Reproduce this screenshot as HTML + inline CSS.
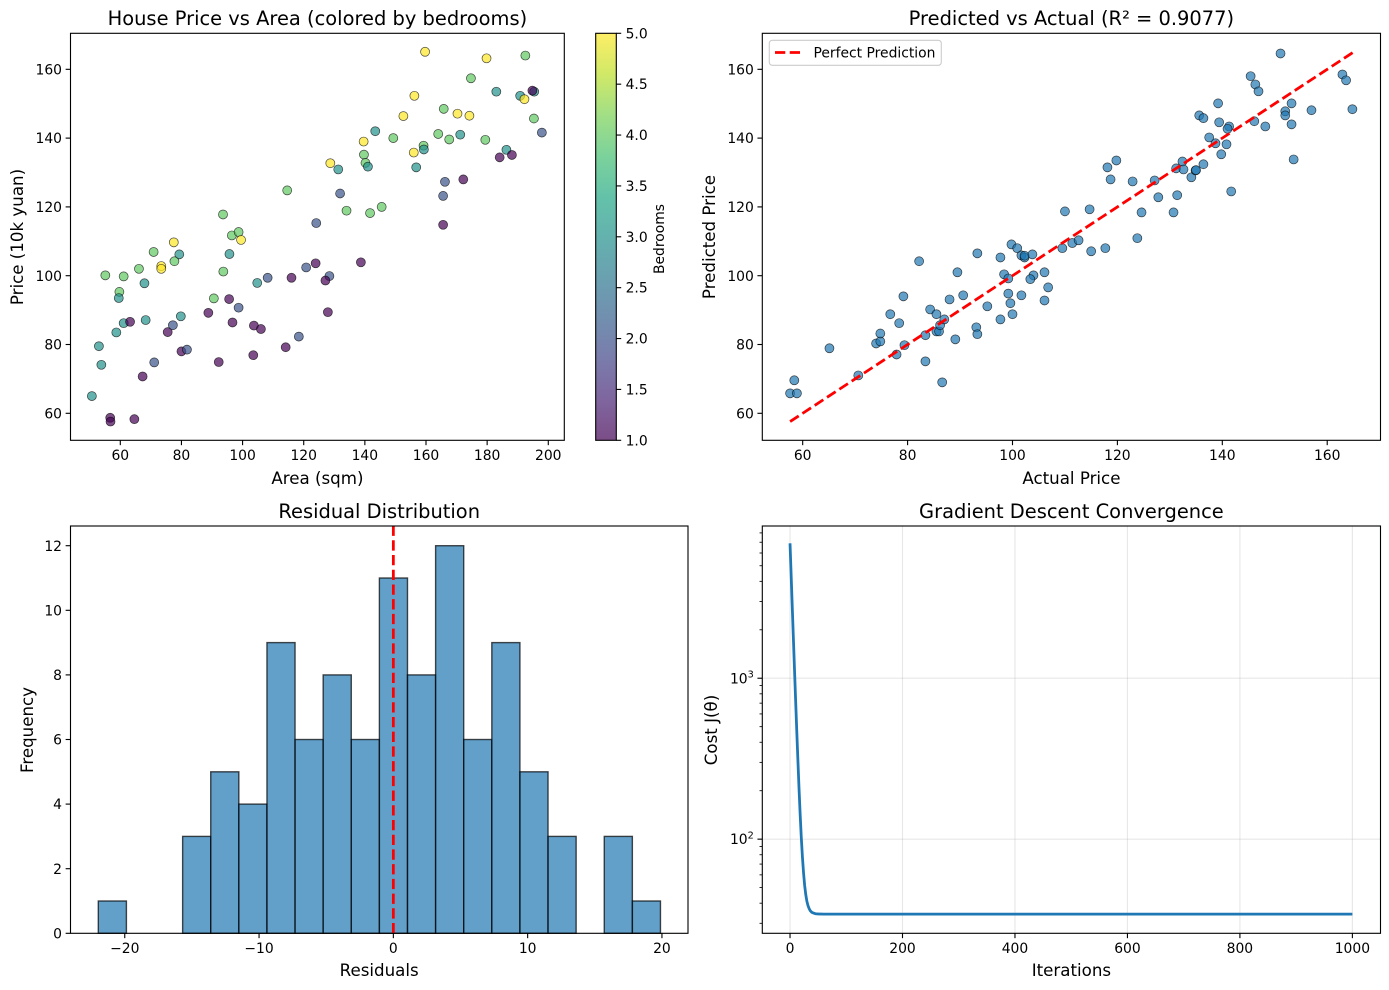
<!DOCTYPE html>
<html lang="en">
<head>
<meta charset="utf-8">
<title>House Price Regression Charts</title>
<style>
html,body{margin:0;padding:0;background:#fff;}
svg{display:block;font-family:"DejaVu Sans","Liberation Sans",sans-serif;}
text{fill:#000;}
</style>
</head>
<body>
<svg id="figure" xmlns="http://www.w3.org/2000/svg" width="1389" height="990" viewBox="0 0 1389 990">
  <defs>
    <linearGradient id="viridis-gradient" x1="0" y1="1" x2="0" y2="0">
      <stop offset="0" stop-color="#440154"/>
      <stop offset="0.1" stop-color="#482475"/>
      <stop offset="0.2" stop-color="#414487"/>
      <stop offset="0.3" stop-color="#355f8d"/>
      <stop offset="0.4" stop-color="#2a788e"/>
      <stop offset="0.5" stop-color="#21918c"/>
      <stop offset="0.6" stop-color="#22a884"/>
      <stop offset="0.7" stop-color="#44bf70"/>
      <stop offset="0.8" stop-color="#7ad151"/>
      <stop offset="0.9" stop-color="#bddf26"/>
      <stop offset="1" stop-color="#fde725"/>
    </linearGradient>
  </defs>
  <rect x="0" y="0" width="1389" height="990" fill="#fff"/>

  <g id="panel-scatter"></g>
  <g id="panel-colorbar">
    <rect x="595.7" y="33.3" width="20.6" height="407" fill="url(#viridis-gradient)" opacity="0.7"/>
    <rect x="595.7" y="33.3" width="20.6" height="407" fill="none" stroke="#000" stroke-width="1.11"/>
    <text transform="translate(664,239) rotate(-90)" text-anchor="middle" font-size="13.89">Bedrooms</text>
  </g>
  <g id="panel-pred"></g>
  <g id="panel-hist"></g>
  <g id="panel-cost"></g>

  <text x="317.4" y="25" text-anchor="middle" font-size="19.44">House Price vs Area (colored by bedrooms)</text>
  <text x="317.4" y="484" text-anchor="middle" font-size="16.67">Area (sqm)</text>
  <text transform="translate(23,237) rotate(-90)" text-anchor="middle" font-size="16.67">Price (10k yuan)</text>

  <text x="1071.4" y="25" text-anchor="middle" font-size="19.44">Predicted vs Actual (R² = 0.9077)</text>
  <text x="1071.4" y="484" text-anchor="middle" font-size="16.67">Actual Price</text>
  <text transform="translate(715,237) rotate(-90)" text-anchor="middle" font-size="16.67">Predicted Price</text>

  <text x="379.2" y="518" text-anchor="middle" font-size="19.44">Residual Distribution</text>
  <text x="379.2" y="976" text-anchor="middle" font-size="16.67">Residuals</text>
  <text transform="translate(33,730) rotate(-90)" text-anchor="middle" font-size="16.67">Frequency</text>

  <text x="1071.4" y="518" text-anchor="middle" font-size="19.44">Gradient Descent Convergence</text>
  <text x="1071.4" y="976" text-anchor="middle" font-size="16.67">Iterations</text>
  <text transform="translate(717,730) rotate(-90)" text-anchor="middle" font-size="16.67">Cost J(θ)</text>

  <g id="legend">
    <rect x="769.3" y="40.3" width="172" height="25" rx="3" ry="3" fill="#fff" fill-opacity="0.8" stroke="#ccc" stroke-width="1.11"/>
    <line x1="775" y1="52.5" x2="803" y2="52.5" stroke="#ff0000" stroke-width="2.78" stroke-dasharray="10.28 4.44"/>
    <text x="813.5" y="57.3" font-size="13.89">Perfect Prediction</text>
  </g>
</svg>

<script>
// ---- Panel 1: price vs area ----
const areaValues = [114.6,93.6,96.5,98.7,99.5,77.5,124.1,70.9,79.3,77.7,73.4,73.4,66.1,55.1,61.1,67.9,59.7,59.5,68.3,61.1,63.2,58.7,53.0,53.8,50.7,56.7,56.8,64.6,67.3,71.1,80.0,81.8,75.5,77.2,79.8,88.8,90.6,95.6,98.7,96.7,103.7,106.0,92.2,103.5,114.1,118.4,104.8,108.2,116.0,120.8,123.9,93.7,95.7,138.7,128.4,127.1,127.9,159.7,179.8,192.5,174.7,183.0,190.8,192.2,195.4,194.8,156.2,165.8,170.3,174.2,152.6,195.3,197.9,143.4,149.3,139.6,164.0,167.6,171.2,179.4,159.2,159.3,156.0,139.7,140.2,141.0,131.3,128.7,156.8,186.3,184.1,188.1,172.2,166.2,165.6,131.9,134.0,141.7,145.5,165.6];
const priceValues = [124.8,117.8,111.7,112.7,110.4,109.7,115.3,106.9,106.2,104.2,102.8,102.0,102.0,100.1,99.8,97.8,95.3,93.5,87.1,86.2,86.6,83.5,79.5,74.1,65.0,58.7,57.6,58.3,70.7,74.8,78.0,78.5,83.6,85.6,88.2,89.2,93.4,93.2,90.7,86.4,85.5,84.5,74.9,76.9,79.2,82.3,97.9,99.4,99.4,102.4,103.6,101.2,106.3,103.9,99.9,98.6,89.4,165.1,163.2,164.0,157.4,153.5,152.3,151.3,153.5,153.8,152.3,148.5,147.1,146.5,146.4,145.7,141.6,142.0,140.0,139.0,141.2,139.6,141.0,139.5,137.8,136.7,135.8,135.2,132.8,131.7,130.9,132.7,131.5,136.6,134.4,135.1,128.0,127.3,123.2,123.9,118.9,118.2,120.0,114.8];
const bedroomValues = [4,4,4,4,5,5,2,4,3,4,5,5,4,4,4,3,4,3,3,3,1,3,3,3,3,1,1,1,1,2,1,2,1,2,3,1,4,1,2,1,1,1,1,1,1,2,3,2,1,2,1,4,3,1,2,1,1,5,5,4,4,3,3,5,3,1,5,4,5,5,5,4,2,3,4,5,4,4,3,4,4,3,5,4,4,3,3,5,3,3,1,1,1,2,2,2,4,4,4,1];
const scatterXTicks = [60,80,100,120,140,160,180,200];
const scatterYTicks = [60,80,100,120,140,160];
const colorbarTicks = [1.0,1.5,2.0,2.5,3.0,3.5,4.0,4.5,5.0];

// ---- Panel 2: predicted vs actual ----
const actualValues = [57.6,58.9,58.4,65.1,70.6,74.0,74.8,74.8,76.7,78.4,77.9,79.4,79.2,82.2,83.4,83.4,84.3,85.5,85.5,86.0,86.2,87.0,86.6,88.0,89.5,89.1,90.6,93.1,93.3,93.3,95.2,97.7,97.7,98.4,99.2,99.2,99.6,100.0,99.8,100.9,101.7,102.3,102.3,103.8,101.7,104.0,103.4,106.1,106.1,106.8,109.5,110.0,114.7,111.4,112.6,115.0,117.7,118.1,119.8,118.7,122.9,127.1,127.8,124.6,123.8,130.7,131.4,131.2,132.4,132.6,134.1,134.9,135.0,136.4,141.7,139.8,140.8,138.7,137.5,141.3,141.0,139.4,135.6,136.4,139.2,146.1,148.2,145.4,146.3,146.9,151.1,153.2,152.0,152.0,153.2,153.6,157.0,162.9,163.6,164.8];
const predictedValues = [65.8,65.8,69.6,78.9,71.0,80.3,80.9,83.2,88.8,86.2,77.1,79.8,94.0,104.2,75.1,82.7,90.2,88.8,83.8,83.8,85.6,87.3,69.0,93.1,101.0,81.5,94.3,85.0,83.0,106.5,91.1,105.3,87.3,100.4,99.2,94.8,92.0,88.8,109.1,108.0,105.9,105.3,105.8,106.2,94.3,100.1,99.0,101.0,92.8,96.6,108.0,118.7,119.3,109.5,110.3,107.1,108.0,131.5,133.5,128.0,127.4,127.7,122.8,118.4,110.9,118.4,123.4,131.2,133.2,130.9,128.6,130.6,130.7,132.4,124.5,135.3,138.2,138.5,140.2,143.4,142.7,144.6,146.6,145.8,150.1,144.9,143.4,158.0,155.6,153.6,164.6,150.1,147.8,146.6,144.0,133.8,148.1,158.5,156.8,148.4];
const perfectLine = [57.6,165.1];
const predXTicks = [60,80,100,120,140,160];
const predYTicks = [60,80,100,120,140,160];

// ---- Panel 3: residual histogram ----
const histStart = -21.97;
const histBinWidth = 2.093;
const histCounts = [1,0,0,3,5,4,9,6,8,6,11,8,12,6,9,5,3,0,3,1];
const histXTicks = [-20,-10,0,10,20];
const histYTicks = [0,2,4,6,8,10,12];
const residualZero = 0;

// ---- Panel 4: convergence ----
const iterationValues = [0,2,4,6,8,10,12,14,16,18,20,22,24,26,28,30,32,34,36,38,40,45,50,60,100,200,400,600,800,1000];
const costValues = [6895,4364,2766,1760,1124,722,469,309,207,143,103,78,62,51.6,45.2,41.1,38.6,37,35.9,35.3,34.9,34.4,34.3,34.2,34.2,34.2,34.2,34.2,34.2,34.2];
const costXTicks = [0,200,400,600,800,1000];
const costYMajor = [100,1000];
const costYExponents = ['2','3'];
const costYMinor = [30,40,50,60,70,80,90,200,300,400,500,600,700,800,900,2000,3000,4000,5000,6000,7000,8000];

const NS = 'http://www.w3.org/2000/svg';
const viridisStops = [[68,1,84],[72,36,117],[65,68,135],[53,95,141],[42,120,142],[33,145,140],[34,168,132],[68,191,112],[122,209,81],[189,223,38],[253,231,37]];

function shape(tag, parent, props) {
  const el = document.createElementNS(NS, tag);
  for (const k in props) el.setAttribute(k, props[k]);
  parent.appendChild(el);
  return el;
}
function linear(d0, d1, r0, r1) {
  return v => r0 + (v - d0) * (r1 - r0) / (d1 - d0);
}
function log10Scale(d0, d1, r0, r1) {
  const a = Math.log10(d0), b = Math.log10(d1);
  return v => r0 + (Math.log10(v) - a) * (r1 - r0) / (b - a);
}
function viridis(t) {
  const p = Math.max(0, Math.min(1, t)) * 10;
  const i = Math.min(9, Math.floor(p));
  const f = p - i;
  const c = [0,1,2].map(j => Math.round(viridisStops[i][j] + (viridisStops[i+1][j] - viridisStops[i][j]) * f));
  return 'rgb(' + c.join(',') + ')';
}
function tickText(v) {
  return String(v).replace('-', '\u2212');
}
function drawFrame(parent, box) {
  const el = shape('rect', parent, {x: box.l, y: box.t, width: box.r - box.l, height: box.b - box.t, fill: 'none', stroke: '#000', 'stroke-width': 1.11});
  
  
}
function drawXTicks(parent, ticks, x, box) {
  ticks.forEach(v => {
    const px = x(v);
    const t = shape('line', parent, {x1: px, x2: px, y1: box.b, y2: box.b + 4.86, stroke: '#000', 'stroke-width': 1.11});
    
    
    const l = shape('text', parent, {x: px, y: box.b + 19.7, 'text-anchor': 'middle', 'font-size': 13.89});
    l.textContent = tickText(v);
    
    
  });
}
function drawYTicks(parent, ticks, y, box) {
  ticks.forEach(v => {
    const py = y(v);
    const t = shape('line', parent, {x1: box.l - 4.86, x2: box.l, y1: py, y2: py, stroke: '#000', 'stroke-width': 1.11});
    
    
    const l = shape('text', parent, {x: box.l - 8.5, y: py + 5.05, 'text-anchor': 'end', 'font-size': 13.89});
    l.textContent = tickText(v);
    
    
  });
}

// Panel 1
(function () {
  const g = document.getElementById('panel-scatter');
  const box = {l: 70.5, r: 564.3, t: 33.3, b: 440.3};
  const x = linear(43.71, 205.24, box.l, box.r);
  const y = linear(52.15, 170.47, box.b, box.t);
  areaValues.forEach((a, i) => {
    const c = shape('circle', g, {cx: x(a), cy: y(priceValues[i]), r: 4.5, fill: viridis((bedroomValues[i] - 1) / 4), 'fill-opacity': 0.7, stroke: '#000', 'stroke-opacity': 0.7, 'stroke-width': 0.7});
    
    
  });
  drawXTicks(g, scatterXTicks, x, box);
  drawYTicks(g, scatterYTicks, y, box);
  drawFrame(g, box);
})();

// Colorbar
(function () {
  const g = document.getElementById('panel-colorbar');
  const y = linear(1, 5, 440.3, 33.3);
  colorbarTicks.forEach(v => {
    const py = y(v);
    const t = shape('line', g, {x1: 616.3, x2: 621.2, y1: py, y2: py, stroke: '#000', 'stroke-width': 1.11});
    
    
    const l = shape('text', g, {x: 625.6, y: py + 5.05, 'font-size': 13.89});
    l.textContent = v.toFixed(1);
    
    
  });
})();

// Panel 2
(function () {
  const g = document.getElementById('panel-pred');
  const box = {l: 762.3, r: 1380.5, t: 33.3, b: 440.3};
  const x = linear(52.3, 170.16, box.l, box.r);
  const y = linear(52.15, 170.47, box.b, box.t);
  actualValues.forEach((a, i) => {
    const c = shape('circle', g, {cx: x(a), cy: y(predictedValues[i]), r: 4.5, fill: '#1f77b4', 'fill-opacity': 0.7, stroke: '#000', 'stroke-opacity': 0.7, 'stroke-width': 0.7});
    
    
  });
  const line = shape('line', g, {x1: x(perfectLine[0]), y1: y(perfectLine[0]), x2: x(perfectLine[1]), y2: y(perfectLine[1]), stroke: '#ff0000', 'stroke-width': 2.78, 'stroke-dasharray': '10.28 4.44'});
  
  
  drawXTicks(g, predXTicks, x, box);
  drawYTicks(g, predYTicks, y, box);
  drawFrame(g, box);
})();

// Panel 3
(function () {
  const g = document.getElementById('panel-hist');
  const box = {l: 70.5, r: 688, t: 526, b: 933.3};
  const x = linear(-24.04, 21.94, box.l, box.r);
  const y = linear(0, 12.61, box.b, box.t);
  histCounts.forEach((n, i) => {
    const x0 = x(histStart + i * histBinWidth);
    const x1 = x(histStart + (i + 1) * histBinWidth);
    const r = shape('rect', g, {x: x0, y: y(n), width: x1 - x0, height: y(0) - y(n), fill: '#1f77b4', 'fill-opacity': 0.7, stroke: '#000', 'stroke-opacity': 0.7, 'stroke-width': 1.39});
    
    
  });
  const v = shape('line', g, {x1: x(residualZero), x2: x(residualZero), y1: box.b, y2: box.t, stroke: '#ff0000', 'stroke-width': 2.78, 'stroke-dasharray': '10.28 4.44'});
  
  
  drawXTicks(g, histXTicks, x, box);
  drawYTicks(g, histYTicks, y, box);
  drawFrame(g, box);
})();

// Panel 4
(function () {
  const g = document.getElementById('panel-cost');
  const box = {l: 762.3, r: 1380.5, t: 526, b: 933.3};
  const x = linear(-49.3, 1050, box.l, box.r);
  const y = log10Scale(26, 8830, box.b, box.t);
  costXTicks.forEach(v => {
    const gl = shape('line', g, {x1: x(v), x2: x(v), y1: box.t, y2: box.b, stroke: '#b0b0b0', 'stroke-opacity': 0.3, 'stroke-width': 1.11});
    
    
  });
  costYMajor.forEach(v => {
    const gl = shape('line', g, {x1: box.l, x2: box.r, y1: y(v), y2: y(v), stroke: '#b0b0b0', 'stroke-opacity': 0.3, 'stroke-width': 1.11});
    
    
  });
  const pts = iterationValues.map((it, i) => x(it).toFixed(2) + ',' + y(costValues[i]).toFixed(2)).join(' ');
  const line = shape('polyline', g, {points: pts, fill: 'none', stroke: '#1f77b4', 'stroke-width': 2.78, 'stroke-linejoin': 'round'});
  
  
  drawXTicks(g, costXTicks, x, box);
  costYMinor.forEach(v => {
    const t = shape('line', g, {x1: box.l - 2.78, x2: box.l, y1: y(v), y2: y(v), stroke: '#000', 'stroke-width': 0.83});
    
    
  });
  costYMajor.forEach((v, i) => {
    const t = shape('line', g, {x1: box.l - 4.86, x2: box.l, y1: y(v), y2: y(v), stroke: '#000', 'stroke-width': 1.11});
    
    
    const l = shape('text', g, {x: box.l - 8.5, y: y(v) + 5.05, 'text-anchor': 'end', 'font-size': 13.89});
    const base = shape('tspan', l, {});
    base.textContent = '10';
    const sup = shape('tspan', l, {dy: -5.8, 'font-size': 9.7});
    sup.textContent = costYExponents[i];
    
    
  });
  drawFrame(g, box);
})();
</script>
</body>
</html>
